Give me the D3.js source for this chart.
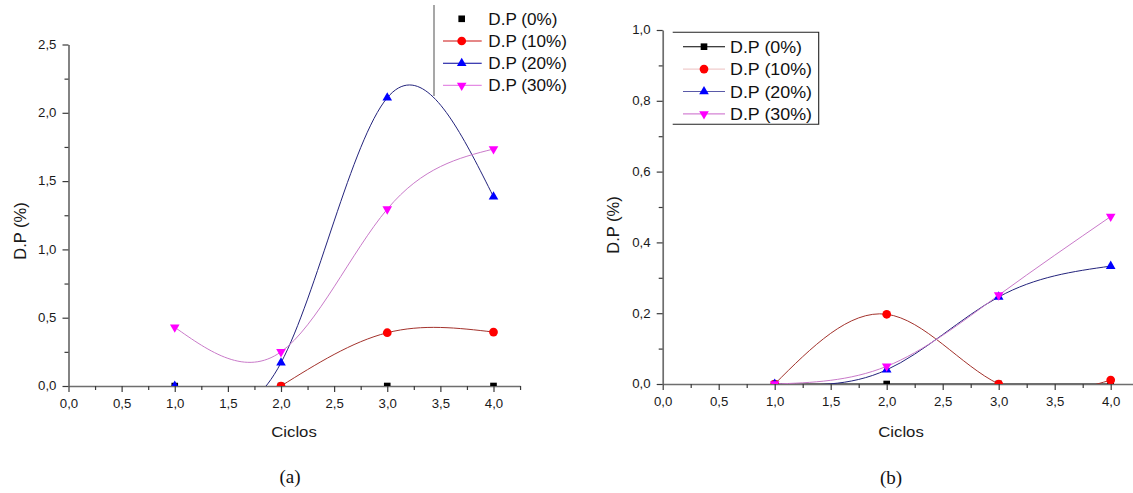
<!DOCTYPE html>
<html><head><meta charset="utf-8">
<script src="https://cdn.jsdelivr.net/npm/d3@7"></script>
<style>
body{margin:0;background:#fff;}
svg{display:block;}
text{font-family:"Liberation Sans", Arial, sans-serif;}
</style></head><body>
<svg id="chart" width="1133" height="493"></svg>
<script>
// ---------- data ----------
const cycles = [1, 2, 3, 4];
const seriesNames = ["D.P (0%)", "D.P (10%)", "D.P (20%)", "D.P (30%)"];
// panel (a)
const dp0A  = [0, 0, 0, 0];
const dp10A = [null, 0, 0.39, 0.395];
const dp20A = [0, 0.17, 2.11, 1.385];
const dp30A = [0.43, 0.25, 1.295, 1.735];
// panel (b)
const dp0B  = [0, 0, 0, 0];
const dp10B = [0, 0.197, 0, 0.011];
const dp20B = [0, 0.04, 0.246, 0.333];
const dp30B = [0, 0.05, 0.251, 0.473];
// ticks / labels
const xTicks = [0, 0.5, 1, 1.5, 2, 2.5, 3, 3.5, 4];
const xMinorTicks = [0.25, 0.75, 1.25, 1.75, 2.25, 2.75, 3.25, 3.75, 4.25];
const yTicksA = [0, 0.5, 1, 1.5, 2, 2.5];
const yMinorA = [0.25, 0.75, 1.25, 1.75, 2.25];
const yTicksB = [0, 0.2, 0.4, 0.6, 0.8, 1.0];
const yMinorB = [0.1, 0.3, 0.5, 0.7, 0.9];
const captions = ["(a)", "(b)"];
const xTitle = "Ciclos";
const yTitle = "D.P (%)";

// ---------- styles ----------
const markerFill = ["#000000", "#ff0000", "#0000ff", "#ff00ff"];
const markerShape = ["square", "circle", "up", "down"];
const curveColor = ["#000000", "#a3322c", "#23237c", "#c97ac9"];

const svg = d3.select("#chart");
const fmt = d => d.toFixed(1).replace(".", ",");

function symbolPath(shape){
  if(shape === "square") return d3.symbol(d3.symbolSquare, 44)();
  if(shape === "circle") return d3.symbol(d3.symbolCircle, 60)();
  return d3.symbol(d3.symbolTriangle, 40)();
}
function drawMarker(g, shape, fill, x, y){
  g.append("path").attr("d", symbolPath(shape))
    .attr("transform", `translate(${x},${y})` + (shape === "down" ? " rotate(180)" : ""))
    .attr("fill", fill);
}

const panels = [
  { key:"a", x0:68.5, unit:106.25, y0:386, yTop:44.5, yMax:2.5,
    yTicks:yTicksA, yMinor:yMinorA, data:[dp0A, dp10A, dp20A, dp30A],
    drawLine:[false, true, true, true],
    xTitlePos:[294, 437], yTitlePos:[20, 231], capPos:[290, 483] },
  { key:"b", x0:662.7, unit:112, y0:384, yTop:30, yMax:1.0,
    yTicks:yTicksB, yMinor:yMinorB, data:[dp0B, dp10B, dp20B, dp30B],
    drawLine:[true, true, true, true],
    xTitlePos:[901, 437], yTitlePos:[613, 225], capPos:[891, 484] }
];

panels.forEach((p, pi) => {
  const x = d3.scaleLinear().domain([0, 4.25]).range([p.x0, p.x0 + 4.25 * p.unit]);
  const y = d3.scaleLinear().domain([0, p.yMax]).range([p.y0, p.yTop]);
  const g = svg.append("g");

  // clip
  const clipId = "clip-" + p.key;
  svg.append("clipPath").attr("id", clipId).append("rect")
    .attr("x", x(0) - 12).attr("y", p.yTop - 12)
    .attr("width", x(4.25) - x(0) + 24).attr("height", p.y0 - p.yTop + 12);

  // axes
  const xAxis = g.append("g").attr("transform", `translate(0,${p.y0})`)
    .call(d3.axisBottom(x).tickValues(xTicks).tickFormat(fmt).tickSize(6).tickPadding(7).tickSizeOuter(0));
  g.append("g").attr("transform", `translate(0,${p.y0})`)
    .call(d3.axisBottom(x).tickValues(xMinorTicks).tickFormat("").tickSize(4).tickSizeOuter(0))
    .select(".domain").remove();
  const yAxis = g.append("g").attr("transform", `translate(${p.x0},0)`)
    .call(d3.axisLeft(y).tickValues(p.yTicks).tickFormat(fmt).tickSize(6).tickPadding(5).tickSizeOuter(0));
  g.append("g").attr("transform", `translate(${p.x0},0)`)
    .call(d3.axisLeft(y).tickValues(p.yMinor).tickFormat("").tickSize(4).tickSizeOuter(0))
    .select(".domain").remove();

  g.selectAll(".domain").attr("stroke", "#6e6e6e").attr("stroke-width", 1.7);
  g.selectAll(".tick line").attr("stroke", "#3a3a3a").attr("stroke-width", 1.2);
  g.selectAll(".tick text").attr("fill", "#1a1a1a").style("font-size", "12px")
    .style("font-family", '"Liberation Sans", Arial, sans-serif');
  xAxis.selectAll(".tick text").attr("transform", "scale(1.1,1)");
  yAxis.selectAll(".tick text").attr("transform", "scale(1.1,1)");

  // series
  const plot = g.append("g").attr("clip-path", `url(#${clipId})`);
  p.data.forEach((vals, si) => {
    const pts = cycles.map((c, j) => ({x:c, y:vals[j]}));
    if (p.drawLine[si]) {
      const line = d3.line().defined(d => d.y != null)
        .x(d => x(d.x)).y(d => y(d.y)).curve(d3.curveNatural);
      plot.append("path").datum(pts.filter(d => d.y != null)).attr("d", line)
        .attr("fill", "none").attr("stroke", curveColor[si]).attr("stroke-width", 1);
    }
  });
  p.data.forEach((vals, si) => {
    cycles.forEach((c, j) => {
      if (vals[j] == null) return;
      drawMarker(plot, markerShape[si], markerFill[si], x(c), y(vals[j]));
    });
  });

  // titles
  const [tx, ty] = p.xTitlePos;
  g.append("text").attr("transform", `translate(${tx},${ty}) scale(1.08,1)`)
    .attr("text-anchor", "middle").style("font-size", "15.5px").attr("fill", "#1a1a1a").text(xTitle);
  const [yx, yy] = p.yTitlePos;
  g.append("text").attr("transform", `translate(${yx},${yy}) rotate(-90)`)
    .attr("text-anchor", "middle").attr("dy", "0.36em").style("font-size", "16.5px")
    .attr("fill", "#1a1a1a").text(yTitle);
  const [cx, cy] = p.capPos;
  g.append("text").attr("x", cx).attr("y", cy).attr("text-anchor", "middle")
    .style("font-family", '"Liberation Serif", "Times New Roman", serif').style("font-size", "19px")
    .attr("fill", "#111").text(captions[pi]);
});

// ---------- legends ----------
// legend (a)
const legA = svg.append("g");
const legALine = [null, "#cc1111", "#000099", "#e48ce4"];
legA.append("line").attr("x1", 434).attr("x2", 434).attr("y1", 5).attr("y2", 96)
  .attr("stroke", "#8a8a8a").attr("stroke-width", 1.5);
seriesNames.forEach((name, i) => {
  const ry = 18.8 + i * 22.2;
  if (legALine[i]) legA.append("line").attr("x1", 443).attr("x2", 481.7).attr("y1", ry).attr("y2", ry)
    .attr("stroke", legALine[i]).attr("stroke-width", 1.1);
  drawMarker(legA, markerShape[i], markerFill[i], 461.7, ry);
  legA.append("text").attr("transform", `translate(488.3,${ry}) scale(1.07,1)`).attr("dy", "0.36em")
    .style("font-size", "16px").attr("fill", "#111").text(name);
});

// legend (b)
const legB = svg.append("g");
const legBLine = ["#000000", "#f0cccc", "#5a5aa8", "#d483d4"];
legB.append("path").attr("d", "M672.7,32.3H818.7V124.3H672.7")
  .attr("fill", "none").attr("stroke", "#222").attr("stroke-width", 1.1);
seriesNames.forEach((name, i) => {
  const ry = 46.7 + i * 22.4;
  legB.append("line").attr("x1", 683).attr("x2", 725).attr("y1", ry).attr("y2", ry)
    .attr("stroke", legBLine[i]).attr("stroke-width", 1.1);
  drawMarker(legB, markerShape[i], markerFill[i], 704, ry);
  legB.append("text").attr("transform", `translate(730,${ry}) scale(1.05,1)`).attr("dy", "0.36em")
    .style("font-size", "17px").attr("fill", "#111").text(name);
});
</script>
</body></html>
